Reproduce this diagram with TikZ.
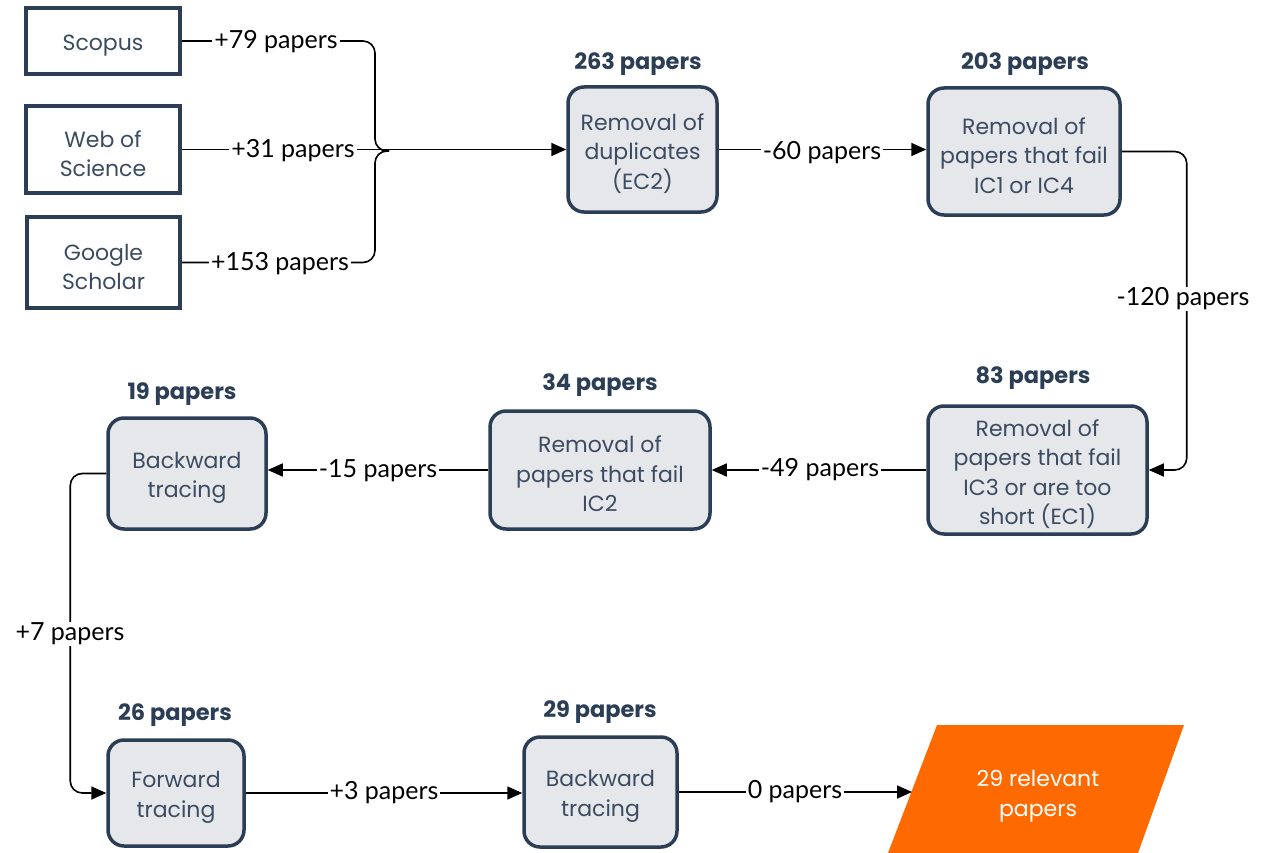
\documentclass[tikz,border=0pt]{standalone}
\usepackage{fontspec}
\setmainfont{Poppins}
\newfontfamily\labfont{Lato}
\usetikzlibrary{arrows.meta}
\definecolor{navy}{HTML}{2B3E55}
\definecolor{boxfill}{HTML}{E6E7EA}
\definecolor{boxtext}{HTML}{3B4B61}
\definecolor{orng}{HTML}{FF6A00}
% invisible strut that lowers the first line of a box text a little
\newcommand\toplift{\rule{0pt}{25pt}}
\begin{document}
\begin{tikzpicture}[x=1pt,y=-1pt,
  srcbox/.style={draw=navy, line width=3.5pt, fill=white, text=boxtext,
    align=center, inner sep=0pt, font=\fontsize{22}{29.5}\selectfont},
  procbox/.style={srcbox, fill=boxfill, rounded corners=16pt},
  count/.style={text=navy, inner sep=0pt, font=\fontsize{22.5}{26}\selectfont\bfseries},
  flowlab/.style={fill=white, inner xsep=2pt, inner ysep=1pt,
    font=\labfont\fontsize{25}{29}\selectfont},
  link/.style={line width=1.6pt},
  flow/.style={link, -{Triangle[length=15pt,width=13pt]}},
]
\useasboundingbox (0,0) rectangle (1265,853);

% sources
\node[srcbox, minimum width=154, minimum height=66] (scopus) at (103,41) {\toplift Scopus};
\node[srcbox, minimum width=154, minimum height=87] (wos) at (103,149.5) {\toplift Web of\\Science};
\node[srcbox, minimum width=153, minimum height=91] (gs) at (103.5,262.5) {\toplift Google\\Scholar};

% screening steps
\node[procbox, minimum width=149, minimum height=125] (dup) at (642.5,149.5) {\toplift Removal of\\duplicates\\(EC2)};
\node[procbox, minimum width=192, minimum height=127] (ic14) at (1024,151.5) {\toplift Removal of\\papers that fail\\IC1 or IC4};
\node[procbox, minimum width=219, minimum height=128] (ic3) at (1037.5,470) {\toplift Removal of\\papers that fail\\IC3 or are too\\short (EC1)};
\node[procbox, minimum width=220, minimum height=118] (ic2) at (600,470) {\toplift Removal of\\papers that fail\\IC2};
\node[procbox, minimum width=158, minimum height=111] (back1) at (187,473.5) {\toplift Backward\\tracing};
\node[procbox, minimum width=136, minimum height=106] (fwd) at (176,793) {\toplift Forward\\tracing};
\node[procbox, minimum width=153, minimum height=110] (back2) at (600.5,792) {\toplift Backward\\tracing};

% final result
\fill[orng] (937,725) -- (1184,725) -- (1138,853) -- (888,853) -- cycle;
\node[text=white, align=center, inner sep=0pt, font=\fontsize{22}{30}\selectfont] (result) at (1038,796) {29 relevant\\papers};
\coordinate (resin) at (912,792);

% counts above the steps
\node[count] (c263) at (638,64) {263 papers};
\node[count] (c203) at (1025,64) {203 papers};
\node[count] (c83) at (1033,378) {83 papers};
\node[count] (c34) at (600,385) {34 papers};
\node[count] (c19) at (182,394) {19 papers};
\node[count] (c26) at (175,715) {26 papers};
\node[count] (c29) at (600,712) {29 papers};

% connectors
\coordinate (brace) at (375,151);
\draw[link, rounded corners=12pt] (scopus.east) -| (brace) -- ++(14,0);
\draw[link, rounded corners=12pt] (gs.east) -| (brace) -- ++(14,0);
\draw[flow] (wos.east) -- (dup.west);
\draw[flow] (dup.east) -- (dup.east -| ic14.west);
\draw[flow, rounded corners=12pt] (ic14.east) -- ++(65,0) |- (ic3.east);
\draw[flow] (ic3.west) -- (ic3.west -| ic2.east);
\draw[flow] (ic2.west) -- (ic2.west -| back1.east);
\draw[flow, rounded corners=12pt] (back1.west) -- ++(-36,0) |- (fwd.west);
\draw[flow] (fwd.east) -- (fwd.east -| back2.west);
\draw[flow] (back2.east) -- (resin);

% connector labels
\node[flowlab] (l79) at (276,42) {+79 papers};
\node[flowlab] (l31) at (293,151) {+31 papers};
\node[flowlab] (l153) at (280,264) {+153 papers};
\node[flowlab] (l60) at (822,153) {-60 papers};
\node[flowlab] (l120) at (1183,299) {-120 papers};
\node[flowlab] (l49) at (820,470) {-49 papers};
\node[flowlab] (l15) at (378,471) {-15 papers};
\node[flowlab] (l7) at (70,634) {+7 papers};
\node[flowlab] (l3) at (384,793) {+3 papers};
\node[flowlab] (l0) at (795,792) {0 papers};
\end{tikzpicture}
\end{document}
